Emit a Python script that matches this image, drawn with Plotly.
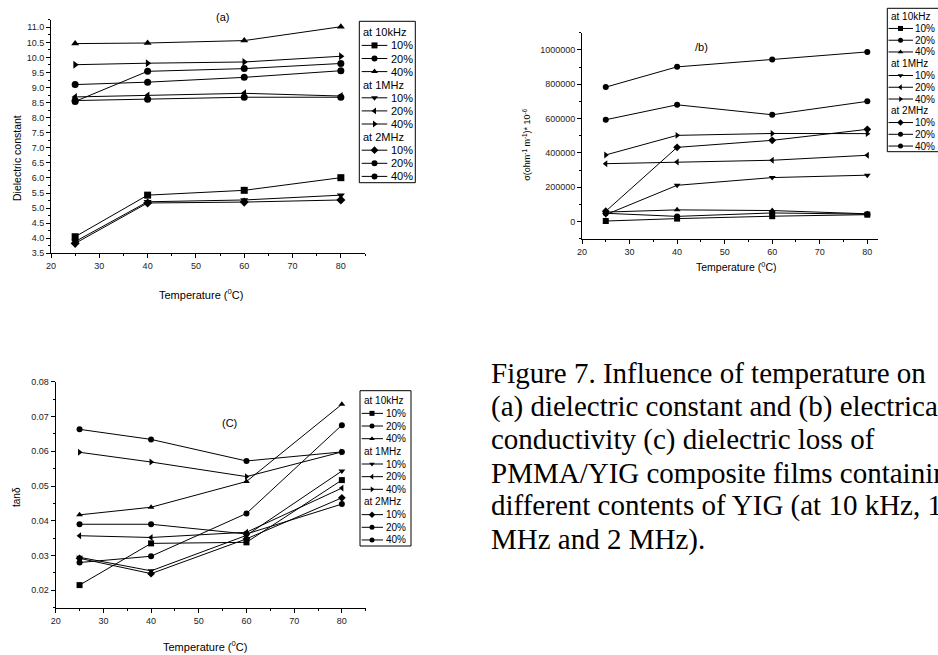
import plotly.graph_objects as go

W, H = 938, 655

# ---------------- data ----------------
T = [25, 40, 60, 80]
groups = ["at 10kHz", "at 1MHz", "at 2MHz"]
contents = ["10%", "20%", "40%"]
symbols = ["square", "circle", "triangle-up",
           "triangle-down", "triangle-left", "triangle-right",
           "diamond", "circle", "circle"]

# (a) dielectric constant
a_10k_10 = [4.05, 5.43, 5.59, 6.01]
a_10k_20 = [9.10, 9.18, 9.34, 9.56]
a_10k_40 = [10.46, 10.48, 10.56, 11.02]
a_1M_10 = [3.89, 5.21, 5.27, 5.43]
a_1M_20 = [8.69, 8.74, 8.81, 8.72]
a_1M_40 = [9.76, 9.81, 9.85, 10.04]
a_2M_10 = [3.83, 5.17, 5.20, 5.27]
a_2M_20 = [8.57, 8.61, 8.68, 8.68]
a_2M_40 = [8.54, 9.54, 9.63, 9.80]

# (b) conductivity
b_10k_10 = [3000, 17000, 31000, 40000]
b_10k_20 = [48000, 30000, 50000, 43000]
b_10k_40 = [55000, 68000, 64000, 45000]
b_1M_10 = [40000, 211000, 256000, 270000]
b_1M_20 = [337000, 347000, 357000, 386000]
b_1M_40 = [388000, 502000, 513000, 512000]
b_2M_10 = [60000, 432000, 473000, 537000]
b_2M_20 = [593000, 680000, 622000, 700000]
b_2M_40 = [783000, 901000, 944000, 988000]

# (c) tan delta
c_10k_10 = [0.0215, 0.0335, 0.0338, 0.0517]
c_10k_20 = [0.0390, 0.0390, 0.0362, 0.0448]
c_10k_40 = [0.0417, 0.0439, 0.0513, 0.0735]
c_1M_10 = [0.0295, 0.0256, 0.0358, 0.0543]
c_1M_20 = [0.0357, 0.0352, 0.0367, 0.0494]
c_1M_40 = [0.0597, 0.0569, 0.0527, 0.0598]
c_2M_10 = [0.0292, 0.0248, 0.0348, 0.0466]
c_2M_20 = [0.0280, 0.0298, 0.0421, 0.0675]
c_2M_40 = [0.0663, 0.0634, 0.0572, 0.0598]

a_series = [a_10k_10, a_10k_20, a_10k_40, a_1M_10, a_1M_20, a_1M_40, a_2M_10, a_2M_20, a_2M_40]
b_series = [b_10k_10, b_10k_20, b_10k_40, b_1M_10, b_1M_20, b_1M_40, b_2M_10, b_2M_20, b_2M_40]
c_series = [c_10k_10, c_10k_20, c_10k_40, c_1M_10, c_1M_20, c_1M_40, c_2M_10, c_2M_20, c_2M_40]

caption_lines = [
    "Figure 7. Influence of temperature on",
    "(a) dielectric constant and (b) electrical",
    "conductivity (c) dielectric loss of",
    "PMMA/YIG composite films containing",
    "different contents of YIG (at 10 kHz, 1",
    "MHz and 2 MHz).",
]

SANS = "Liberation Sans, Arial, sans-serif"
SERIF = "Liberation Serif, Times New Roman, serif"


def px(x):
    return x / W


def py(y):
    return 1 - y / H


fig = go.Figure()
annotations = []
shapes = []

panels = [
    dict(key="", xdom=(51, 365), ydom=(19.8, 253.3), xr=[20, 85], yr=[3.5, 11.25],
         ydt=0.5, ymin=0.25, yfmt=".1f", data=a_series, ms=7),
    dict(key="2", xdom=(582, 878), ydom=(32.7, 238.7), xr=[20, 82.25], yr=[-100000, 1100000],
         ydt=200000, ymin=100000, yfmt="d", data=b_series, ms=6),
    dict(key="3", xdom=(55.7, 365.7), ydom=(381.7, 607.7), xr=[20, 85], yr=[0.015, 0.08],
         ydt=0.01, ymin=0.005, yfmt=".2f", data=c_series, ms=6),
]

layout_axes = {}
for p in panels:
    k = p["key"]
    for i, vals in enumerate(p["data"]):
        fig.add_trace(go.Scatter(
            x=T, y=vals, mode="lines+markers",
            name=f"{groups[i // 3]} {contents[i % 3]}",
            line=dict(color="black", width=1),
            marker=dict(symbol=symbols[i], size=p["ms"], color="black"),
            xaxis="x" + k, yaxis="y" + k, showlegend=False, cliponaxis=False,
        ))
    common = dict(showline=True, linecolor="black", linewidth=1, ticks="outside",
                  ticklen=4, tickwidth=1, tickcolor="black", showgrid=False,
                  zeroline=False, tickfont=dict(family=SANS, size=9, color="#222"),
                  fixedrange=True)
    layout_axes["xaxis" + k] = dict(
        domain=[px(p["xdom"][0]), px(p["xdom"][1])], range=p["xr"],
        anchor="y" + k, tick0=0, dtick=10,
        minor=dict(ticks="outside", ticklen=2, tickwidth=1, tickcolor="black", tick0=0, dtick=5),
        **common)
    layout_axes["yaxis" + k] = dict(
        domain=[py(p["ydom"][1]), py(p["ydom"][0])], range=p["yr"],
        anchor="x" + k, tick0=0, dtick=p["ydt"], tickformat=p["yfmt"],
        minor=dict(ticks="outside", ticklen=2, tickwidth=1, tickcolor="black", tick0=0, dtick=p["ymin"]),
        **common)

# overlay pixel axis for the legend samples
layout_axes["xaxis4"] = dict(domain=[0, 1], range=[0, W], visible=False, anchor="y4", fixedrange=True)
layout_axes["yaxis4"] = dict(domain=[0, 1], range=[H, 0], visible=False, anchor="x4", fixedrange=True)


def ann(x, y, text, size, family=SANS, xanchor="center", angle=0, color="black"):
    annotations.append(dict(
        x=px(x), y=py(y), xref="paper", yref="paper", text=text, showarrow=False,
        xanchor=xanchor, yanchor="middle", textangle=angle,
        font=dict(family=family, size=size, color=color)))


def draw_legend(box, row0, step, lx0, lx1, mx, tx, fs, ms):
    shapes.append(dict(type="rect", xref="paper", yref="paper",
                       x0=px(box[0]), x1=px(box[2]), y0=py(box[3]), y1=py(box[1]),
                       line=dict(color="black", width=1)))
    lxs, lys, mxs, mys, msym = [], [], [], [], []
    row = 0
    for gi, g in enumerate(groups):
        ann(box[0] + 1.5, row0 + row * step, g, fs, xanchor="left")
        row += 1
        for ci, c in enumerate(contents):
            y = row0 + row * step
            lxs += [lx0, lx1, None]
            lys += [y, y, None]
            mxs.append(mx)
            mys.append(y)
            msym.append(symbols[gi * 3 + ci])
            ann(tx, y, c, fs, xanchor="left")
            row += 1
    fig.add_trace(go.Scatter(x=lxs, y=lys, mode="lines", line=dict(color="black", width=1),
                             xaxis="x4", yaxis="y4", showlegend=False, hoverinfo="skip"))
    fig.add_trace(go.Scatter(x=mxs, y=mys, mode="markers",
                             marker=dict(symbol=msym, size=ms, color="black"),
                             xaxis="x4", yaxis="y4", showlegend=False, hoverinfo="skip"))


draw_legend((359.3, 21.3, 415.3, 182.7), 32.3, 13.1, 361.7, 387.3, 374.5, 389, 11, 6)
draw_legend((887.3, 8.3, 990, 151.7), 16.7, 11.76, 888.5, 913, 900.5, 913, 10, 5)
draw_legend((360, 390.7, 411, 546), 400.7, 12.66, 361.7, 383, 372, 384, 10, 5)

# axis titles
ann(17, 158, "Dielectric constant", 10.5, angle=-90)
ann(201, 294, "Temperature (<sup>0</sup>C)", 11)
ann(526.7, 145, "σ(ohm<sup>-1</sup> m<sup>-1</sup>)* 10<sup>-6</sup>", 9, angle=-90)
ann(736, 266, "Temperature (<sup>0</sup>C)", 10.5)
ann(17, 497, "tanδ", 10, angle=-90)
ann(205, 646, "Temperature (<sup>0</sup>C)", 11)

# panel titles
ann(222, 17, "(a)", 11)
ann(701.7, 47, "/b)", 11)
ann(229, 423, "(C)", 11)

# caption
for i, line in enumerate(caption_lines):
    ann(489, 373 + i * 33.2, line, 29, family=SERIF, xanchor="left")

fig.update_layout(
    width=W, height=H,
    margin=dict(l=0, r=0, t=0, b=0, autoexpand=False),
    paper_bgcolor="white", plot_bgcolor="rgba(0,0,0,0)",
    showlegend=False, annotations=annotations, shapes=shapes,
    **layout_axes,
)

fig.write_html("out.html")
